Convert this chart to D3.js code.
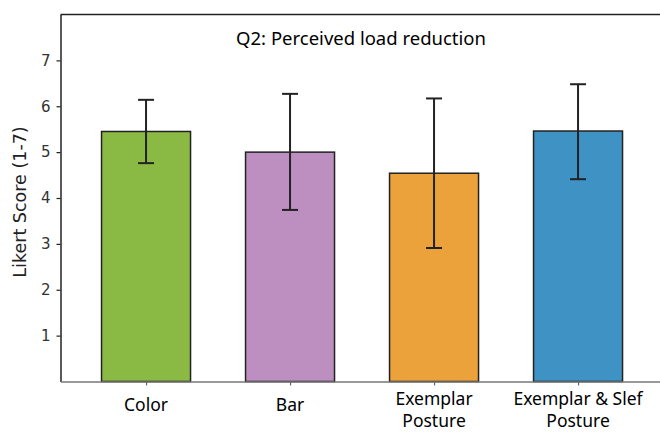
<!DOCTYPE html>
<html>
<head>
<meta charset="utf-8">
<script src="https://cdn.jsdelivr.net/npm/d3@7"></script>
<style>
	body { margin: 0; background: #fff; }
	svg { display: block; }
</style>
</head>
<body>
<div id="vis"></div>
<script>
var categories = [['Color'], ['Bar'], ['Exemplar', 'Posture'], ['Exemplar & Slef', 'Posture']];
var means = [5.45, 5.0, 4.54, 5.46];
var errLow = [4.76, 3.74, 2.91, 4.41];
var errHigh = [6.14, 6.27, 6.17, 6.48];
var colors = ['#8bba44', '#bd8fc1', '#eba23b', '#3f93c4'];
var yTicks = [1, 2, 3, 4, 5, 6, 7];

var width = 660,
	height = 432;

var margin = { left: 60.5, top: 14.5, right: 0, bottom: 50.5 };
var drawHeight = height - margin.top - margin.bottom;

var labelFont = '"Noto Sans", "Open Sans", sans-serif';
var tickFont = '"DejaVu Sans", "Liberation Sans", sans-serif';

var svg = d3.select('#vis')
	.append('svg')
	.attr('width', width)
	.attr('height', height);

var xScale = d3.scaleLinear()
	.domain([-0.594, 3.6])
	.range([margin.left, margin.left + 4.194 * 144]);

var yScale = d3.scaleLinear()
	.domain([0, 8])
	.range([margin.top + drawHeight, margin.top]);

var barW = 0.618;

// bars
svg.append('g').selectAll('rect')
	.data(means)
	.enter().append('rect')
	.attr('x', function(d, i) { return xScale(i - barW / 2); })
	.attr('y', function(d) { return yScale(d); })
	.attr('width', function() { return xScale(barW) - xScale(0); })
	.attr('height', function(d) { return yScale(0) - yScale(d); })
	.attr('fill', function(d, i) { return colors[i]; })
	.attr('stroke', '#222')
	.attr('stroke-width', 1.5);

// error bars
var err = svg.append('g').selectAll('g')
	.data(means)
	.enter().append('g')
	.attr('stroke', '#222')
	.attr('stroke-width', 2);

err.append('line')
	.attr('x1', function(d, i) { return xScale(i); })
	.attr('x2', function(d, i) { return xScale(i); })
	.attr('y1', function(d, i) { return yScale(errLow[i]); })
	.attr('y2', function(d, i) { return yScale(errHigh[i]); });

[errLow, errHigh].forEach(function(arr) {
	err.append('line')
		.attr('x1', function(d, i) { return xScale(i) - 8; })
		.attr('x2', function(d, i) { return xScale(i) + 8; })
		.attr('y1', function(d, i) { return yScale(arr[i]); })
		.attr('y2', function(d, i) { return yScale(arr[i]); });
});

// y axis
var yAxis = svg.append('g')
	.attr('transform', 'translate(' + margin.left + ',0)')
	.call(d3.axisLeft(yScale).tickValues(yTicks).tickSize(4).tickSizeOuter(0).tickPadding(6).tickFormat(d3.format('d')));
yAxis.select('.domain').attr('stroke', '#222').attr('stroke-width', 1.5);
yAxis.selectAll('.tick line').attr('stroke', '#222').attr('stroke-width', 1.2);
yAxis.selectAll('.tick text')
	.style('font-family', tickFont)
	.style('font-size', '15px')
	.attr('fill', '#333');

// top spine
svg.append('line')
	.attr('x1', margin.left)
	.attr('x2', width)
	.attr('y1', margin.top)
	.attr('y2', margin.top)
	.attr('stroke', '#222')
	.attr('stroke-width', 1.5);

// x axis
var xAxis = svg.append('g')
	.attr('transform', 'translate(0,' + yScale(0) + ')')
	.call(d3.axisBottom(xScale).tickValues([0, 1, 2, 3]).tickSize(4).tickSizeOuter(0).tickFormat(''));
xAxis.select('.domain').attr('stroke', '#777').attr('stroke-width', 1.5);
xAxis.selectAll('.tick line').attr('stroke', '#666').attr('stroke-width', 1.2);

svg.append('g').selectAll('text')
	.data(categories)
	.enter().append('text')
	.attr('x', function(d, i) { return xScale(i); })
	.attr('y', function(d) { return d.length > 1 ? 405 : 411; })
	.attr('text-anchor', 'middle')
	.attr('font-family', labelFont)
	.attr('font-size', 17.5)
	.attr('fill', '#000')
	.each(function(d) {
		var t = d3.select(this);
		d.forEach(function(line, j) {
			t.append('tspan')
				.attr('x', t.attr('x'))
				.attr('dy', j === 0 ? 0 : 22)
				.text(line);
		});
	});

// title
svg.append('text')
	.attr('x', 361)
	.attr('y', 45)
	.attr('text-anchor', 'middle')
	.attr('font-family', labelFont)
	.attr('font-size', 18.5)
	.attr('fill', '#000')
	.text('Q2: Perceived load reduction');

// y label
svg.append('text')
	.attr('transform', 'translate(20,202) rotate(-90)')
	.attr('text-anchor', 'middle')
	.attr('dy', '0.35em')
	.style('font-family', tickFont)
	.style('font-size', '17.5px')
	.attr('fill', '#222')
	.text('Likert Score (1-7)');
</script>
</body>
</html>
